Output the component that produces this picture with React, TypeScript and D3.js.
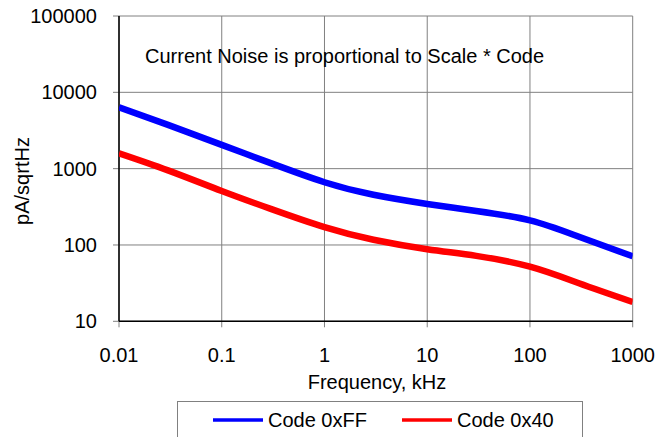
import React from "react";
import * as d3 from "d3";

const freqs = [0.01, 0.03, 0.1, 0.3, 1, 3, 10, 30, 100, 300, 1000];
const codeFF = [6350, 3740, 2050, 1180, 664, 455, 345, 279, 210, 128, 71];
const code40 = [1590, 950, 510, 297, 171, 117, 88, 72, 52, 31.5, 17.9];
const xTicks = [0.01, 0.1, 1, 10, 100, 1000];
const yTicks = [10, 100, 1000, 10000, 100000];
const seriesNames = ["Code 0xFF", "Code 0x40"];
const seriesColors = ["#0000ff", "#ff0000"];

const W = 669;
const H = 437;
const left = 119;
const right = 632.7;
const top = 16;
const bottom = 321.3;
const font = "Arial, 'Liberation Sans', Helvetica, sans-serif";
const fs = 20;

export default function App() {
  const x = d3.scaleLog().domain([0.01, 1000]).range([left, right]);
  const y = d3.scaleLog().domain([10, 100000]).range([bottom, top]);

  const line = d3
    .line<[number, number]>()
    .x((d) => x(d[0]))
    .y((d) => y(d[1]))
    .curve(d3.curveNatural);

  const series = [codeFF, code40].map((vals) =>
    freqs.map((f, i) => [f, vals[i]] as [number, number])
  );

  const grid = "#808080";

  return (
    <svg
      width={W}
      height={H}
      style={{ position: "absolute", left: 0, top: 0, background: "#fff" }}
      fontFamily={font}
    >
      <defs>
        <clipPath id="plot">
          <rect x={left} y={top} width={right - left} height={bottom - top} />
        </clipPath>
      </defs>
      <rect width={W} height={H} fill="#fff" />

      {/* grid + ticks */}
      {yTicks.map((t) => (
        <g key={"y" + t}>
          <line x1={left - 6} x2={right} y1={y(t)} y2={y(t)} stroke={grid} strokeWidth={1} />
          <text x={97} y={y(t) + 7} textAnchor="end" fontSize={fs} fill="#000">
            {t}
          </text>
        </g>
      ))}
      {xTicks.map((t) => (
        <g key={"x" + t}>
          <line x1={x(t)} x2={x(t)} y1={top} y2={bottom + 6} stroke={grid} strokeWidth={1} />
          <text x={x(t)} y={362} textAnchor="middle" fontSize={fs} fill="#000">
            {t}
          </text>
        </g>
      ))}

      {/* axes */}
      <line x1={left} x2={left} y1={top} y2={bottom} stroke="#000" strokeWidth={1.5} />
      <line x1={left} x2={right} y1={bottom} y2={bottom} stroke="#000" strokeWidth={1.5} />

      <text x={145} y={63} fontSize={fs} fill="#000">
        Current Noise is proportional to Scale * Code
      </text>

      <g clipPath="url(#plot)">
        {series.map((s, i) => (
          <path
            key={i}
            d={line(s) || ""}
            fill="none"
            stroke={seriesColors[i]}
            strokeWidth={6.5}
          />
        ))}
      </g>

      <text
        transform={`translate(29,181) rotate(-90)`}
        textAnchor="middle"
        fontSize={fs}
        fill="#000"
      >
        pA/sqrtHz
      </text>
      <text x={377} y={389} textAnchor="middle" fontSize={fs} fill="#000">
        Frequency, kHz
      </text>

      {/* legend */}
      <rect x={177.5} y={401.5} width={405} height={50} fill="#fff" stroke={grid} strokeWidth={1} />
      {seriesNames.map((n, i) => {
        const lx = i === 0 ? 213 : 402;
        return (
          <g key={n}>
            <line x1={lx} x2={lx + 50} y1={420} y2={420} stroke={seriesColors[i]} strokeWidth={3.5} />
            <text x={lx + 55} y={427} fontSize={fs} fill="#000">
              {n}
            </text>
          </g>
        );
      })}
    </svg>
  );
}
